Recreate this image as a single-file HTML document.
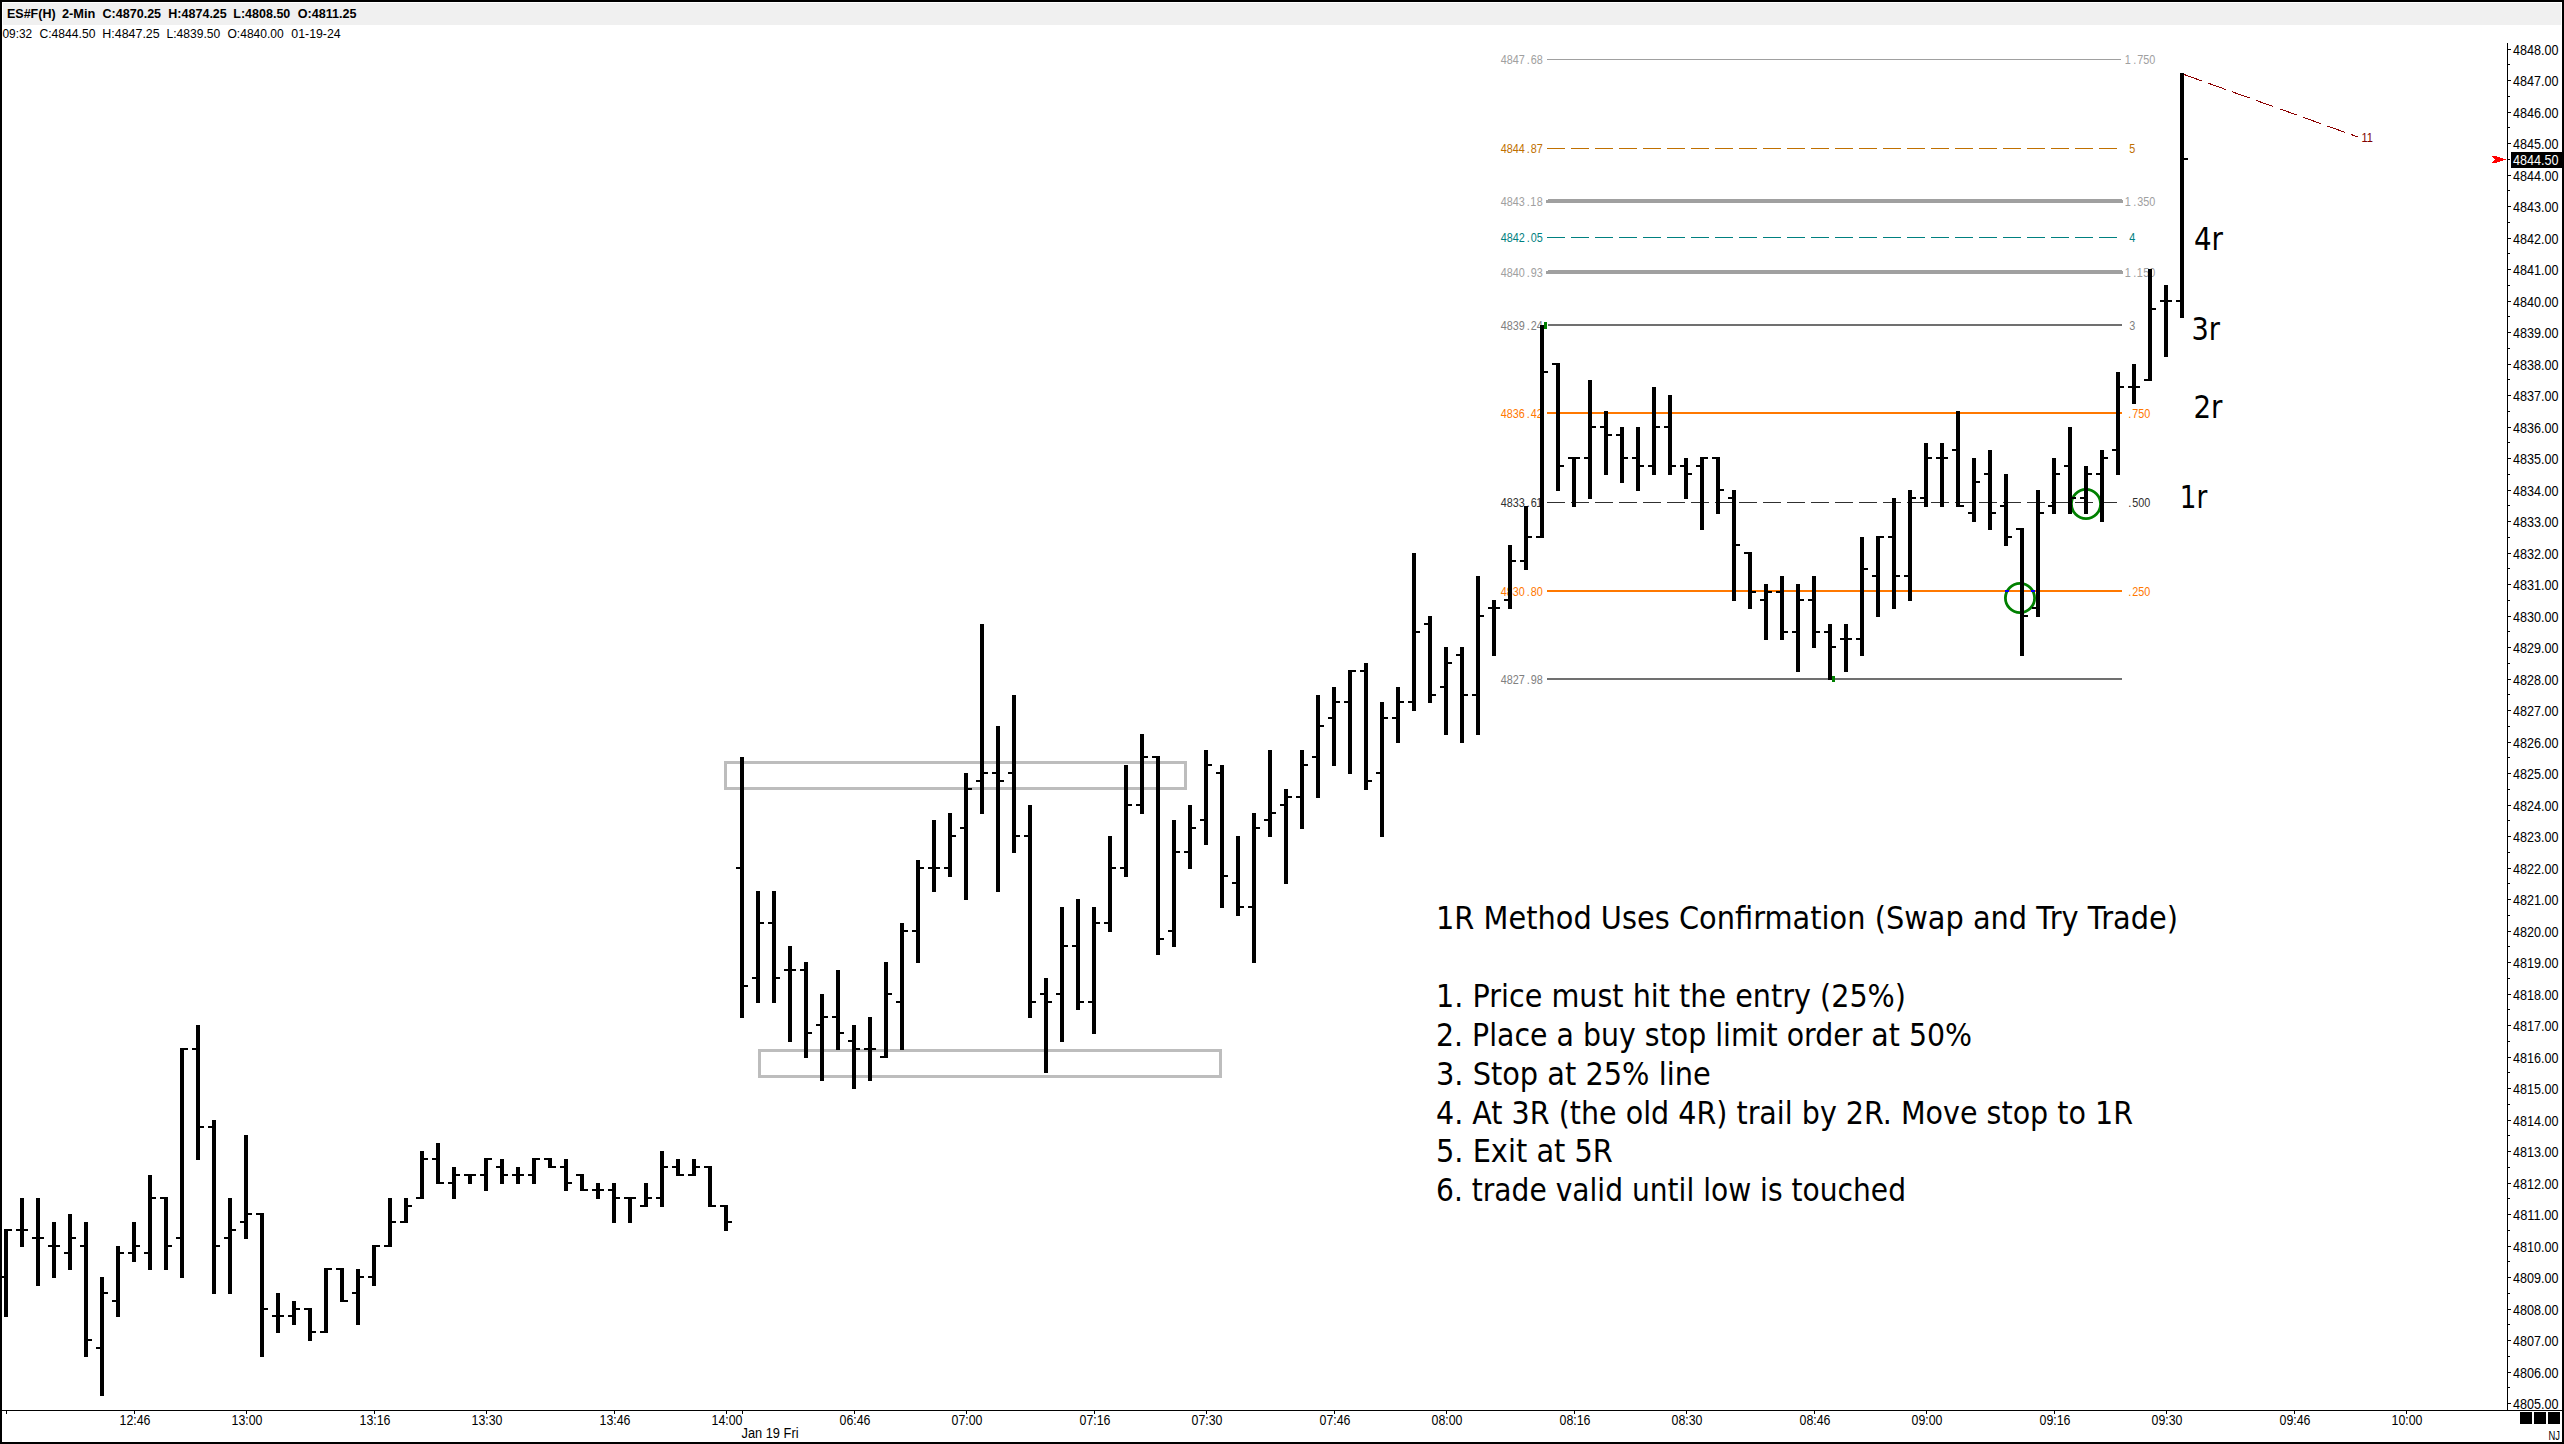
<!DOCTYPE html><html><head><meta charset="utf-8"><title>ES 2-Min Chart</title><style>html,body{margin:0;padding:0;background:#fff;overflow:hidden}svg{display:block}</style></head><body><svg width="2564" height="1444" viewBox="0 0 2564 1444">
<rect x="0" y="0" width="2564" height="1444" fill="#fff"/>
<rect x="3" y="3" width="2558" height="22" fill="#f0f0f0"/>
<g shape-rendering="crispEdges">
<rect x="1547" y="59" width="574" height="1" fill="#a0a0a0"/>
<path d="M1547,148h18v1h-18zM1571,148h18v1h-18zM1595,148h18v1h-18zM1619,148h18v1h-18zM1643,148h18v1h-18zM1667,148h18v1h-18zM1691,148h18v1h-18zM1715,148h18v1h-18zM1739,148h18v1h-18zM1763,148h18v1h-18zM1787,148h18v1h-18zM1811,148h18v1h-18zM1835,148h18v1h-18zM1859,148h18v1h-18zM1883,148h18v1h-18zM1907,148h18v1h-18zM1931,148h18v1h-18zM1955,148h18v1h-18zM1979,148h18v1h-18zM2003,148h18v1h-18zM2027,148h18v1h-18zM2051,148h18v1h-18zM2075,148h18v1h-18zM2099,148h18v1h-18z" fill="#c07000"/>
<rect x="1548" y="199" width="574" height="1" fill="#a0a0a0"/>
<rect x="1546" y="200" width="577" height="3" fill="#a0a0a0"/>
<path d="M1547,237h18v1h-18zM1571,237h18v1h-18zM1595,237h18v1h-18zM1619,237h18v1h-18zM1643,237h18v1h-18zM1667,237h18v1h-18zM1691,237h18v1h-18zM1715,237h18v1h-18zM1739,237h18v1h-18zM1763,237h18v1h-18zM1787,237h18v1h-18zM1811,237h18v1h-18zM1835,237h18v1h-18zM1859,237h18v1h-18zM1883,237h18v1h-18zM1907,237h18v1h-18zM1931,237h18v1h-18zM1955,237h18v1h-18zM1979,237h18v1h-18zM2003,237h18v1h-18zM2027,237h18v1h-18zM2051,237h18v1h-18zM2075,237h18v1h-18zM2099,237h18v1h-18z" fill="#008080"/>
<rect x="1548" y="270" width="574" height="1" fill="#a0a0a0"/>
<rect x="1546" y="271" width="577" height="3" fill="#a0a0a0"/>
<rect x="1548" y="324" width="574" height="2" fill="#707070"/>
<rect x="1547" y="412" width="575" height="2" fill="#ff7800"/>
<path d="M1547,502h18v1h-18zM1571,502h18v1h-18zM1595,502h18v1h-18zM1619,502h18v1h-18zM1643,502h18v1h-18zM1667,502h18v1h-18zM1691,502h18v1h-18zM1715,502h18v1h-18zM1739,502h18v1h-18zM1763,502h18v1h-18zM1787,502h18v1h-18zM1811,502h18v1h-18zM1835,502h18v1h-18zM1859,502h18v1h-18zM1883,502h18v1h-18zM1907,502h18v1h-18zM1931,502h18v1h-18zM1955,502h18v1h-18zM1979,502h18v1h-18zM2003,502h18v1h-18zM2027,502h18v1h-18zM2051,502h18v1h-18zM2075,502h18v1h-18zM2099,502h18v1h-18z" fill="#303030"/>
<rect x="1547" y="590" width="575" height="2" fill="#ff7800"/>
<rect x="1547" y="678" width="575" height="2" fill="#707070"/>
</g>
<text transform="translate(1501 64) scale(0.86 1)" x="-0.23 6.74 13.72 20.70 30.00 34.65 41.63" y="0" font-family="'Liberation Sans', Arial, sans-serif" font-size="12.6" fill="#a0a0a0">4847.68</text>
<text transform="translate(1501 153) scale(0.86 1)" x="-0.23 6.74 13.72 20.70 30.00 34.65 41.63" y="0" font-family="'Liberation Sans', Arial, sans-serif" font-size="12.6" fill="#c07000">4844.87</text>
<text transform="translate(1501 206) scale(0.86 1)" x="-0.23 6.74 13.72 20.70 30.00 33.95 41.63" y="0" font-family="'Liberation Sans', Arial, sans-serif" font-size="12.6" fill="#a0a0a0">4843.18</text>
<text transform="translate(1501 242) scale(0.86 1)" x="-0.23 6.74 13.72 20.70 30.00 34.65 41.63" y="0" font-family="'Liberation Sans', Arial, sans-serif" font-size="12.6" fill="#008080">4842.05</text>
<text transform="translate(1501 277) scale(0.86 1)" x="-0.23 6.74 13.72 20.70 30.00 34.65 41.63" y="0" font-family="'Liberation Sans', Arial, sans-serif" font-size="12.6" fill="#a0a0a0">4840.93</text>
<text transform="translate(1501 330) scale(0.86 1)" x="-0.23 6.74 13.72 20.70 30.00 34.65 41.63" y="0" font-family="'Liberation Sans', Arial, sans-serif" font-size="12.6" fill="#808080">4839.24</text>
<text transform="translate(1501 418) scale(0.86 1)" x="-0.23 6.74 13.72 20.70 30.00 34.65 41.63" y="0" font-family="'Liberation Sans', Arial, sans-serif" font-size="12.6" fill="#ff7800">4836.42</text>
<text transform="translate(1501 507) scale(0.86 1)" x="-0.23 6.74 13.72 20.70 30.00 34.65 40.93" y="0" font-family="'Liberation Sans', Arial, sans-serif" font-size="12.6" fill="#303030">4833.61</text>
<text transform="translate(1501 596) scale(0.86 1)" x="-0.23 6.74 13.72 20.70 30.00 34.65 41.63" y="0" font-family="'Liberation Sans', Arial, sans-serif" font-size="12.6" fill="#ff7800">4830.80</text>
<text transform="translate(1501 684) scale(0.86 1)" x="-0.23 6.74 13.72 20.70 30.00 34.65 41.63" y="0" font-family="'Liberation Sans', Arial, sans-serif" font-size="12.6" fill="#808080">4827.98</text>
<text transform="translate(2125.5 64) scale(0.86 1)" x="-0.93 9.07 13.72 20.70 27.67" y="0" font-family="'Liberation Sans', Arial, sans-serif" font-size="12.6" fill="#a0a0a0">1.750</text>
<text transform="translate(2129.5 153) scale(0.86 1)" x="-0.23" y="0" font-family="'Liberation Sans', Arial, sans-serif" font-size="12.6" fill="#c07000">5</text>
<text transform="translate(2125.5 206) scale(0.86 1)" x="-0.93 9.07 13.72 20.70 27.67" y="0" font-family="'Liberation Sans', Arial, sans-serif" font-size="12.6" fill="#a0a0a0">1.350</text>
<text transform="translate(2129.5 242) scale(0.86 1)" x="-0.23" y="0" font-family="'Liberation Sans', Arial, sans-serif" font-size="12.6" fill="#008080">4</text>
<text transform="translate(2125.5 277) scale(0.86 1)" x="-0.93 9.07 13.02 20.70 27.67" y="0" font-family="'Liberation Sans', Arial, sans-serif" font-size="12.6" fill="#a0a0a0">1.150</text>
<text transform="translate(2129.5 330) scale(0.86 1)" x="-0.23" y="0" font-family="'Liberation Sans', Arial, sans-serif" font-size="12.6" fill="#808080">3</text>
<text transform="translate(2126.5 418) scale(0.86 1)" x="2.09 6.74 13.72 20.70" y="0" font-family="'Liberation Sans', Arial, sans-serif" font-size="12.6" fill="#ff7800">.750</text>
<text transform="translate(2126.5 507) scale(0.86 1)" x="2.09 6.74 13.72 20.70" y="0" font-family="'Liberation Sans', Arial, sans-serif" font-size="12.6" fill="#303030">.500</text>
<text transform="translate(2126.5 596) scale(0.86 1)" x="2.09 6.74 13.72 20.70" y="0" font-family="'Liberation Sans', Arial, sans-serif" font-size="12.6" fill="#ff7800">.250</text>
<rect x="725.5" y="762.5" width="460" height="26" fill="none" stroke="#bdbdbd" stroke-width="3" shape-rendering="crispEdges"/>
<rect x="759.5" y="1050.5" width="461" height="26" fill="none" stroke="#bdbdbd" stroke-width="3" shape-rendering="crispEdges"/>
<circle cx="2020" cy="598" r="14.6" fill="none" stroke="#008000" stroke-width="2.8"/>
<circle cx="2086" cy="504" r="14.6" fill="none" stroke="#008000" stroke-width="2.8"/>
<rect x="2005" y="590" width="4" height="2" fill="#0000ff"/>
<rect x="2031" y="590" width="4" height="2" fill="#0000ff"/>
<rect x="1544" y="322" width="3" height="7" fill="#008000"/>
<rect x="1832" y="676" width="3" height="6" fill="#008000"/>
<path d="M4,1230h4v87h-4zM0,1276h8v2h-8zM4,1229h8v2h-8zM20,1198h4v49h-4zM16,1229h8v2h-8zM20,1229h8v2h-8zM36,1198h4v88h-4zM32,1237h8v2h-8zM36,1237h8v2h-8zM52,1222h4v56h-4zM48,1245h8v2h-8zM52,1245h8v2h-8zM68,1214h4v56h-4zM64,1252h8v2h-8zM68,1237h8v2h-8zM84,1222h4v135h-4zM80,1245h8v2h-8zM84,1339h8v2h-8zM100,1277h4v119h-4zM96,1347h8v2h-8zM100,1292h8v2h-8zM116,1246h4v71h-4zM112,1300h8v2h-8zM116,1252h8v2h-8zM132,1222h4v40h-4zM128,1252h8v2h-8zM132,1245h8v2h-8zM148,1175h4v95h-4zM144,1252h8v2h-8zM148,1197h8v2h-8zM164,1198h4v72h-4zM160,1197h8v2h-8zM164,1245h8v2h-8zM180,1049h4v229h-4zM176,1237h8v2h-8zM180,1048h8v2h-8zM196,1025h4v135h-4zM192,1048h8v2h-8zM196,1126h8v2h-8zM212,1120h4v174h-4zM208,1126h8v2h-8zM212,1245h8v2h-8zM228,1198h4v96h-4zM224,1237h8v2h-8zM228,1229h8v2h-8zM244,1135h4v104h-4zM240,1221h8v2h-8zM244,1213h8v2h-8zM260,1214h4v143h-4zM256,1213h8v2h-8zM260,1308h8v2h-8zM276,1293h4v40h-4zM272,1315h8v2h-8zM276,1315h8v2h-8zM292,1301h4v24h-4zM288,1315h8v2h-8zM292,1308h8v2h-8zM308,1309h4v32h-4zM304,1308h8v2h-8zM308,1331h8v2h-8zM324,1269h4v64h-4zM320,1331h8v2h-8zM324,1268h8v2h-8zM340,1269h4v33h-4zM336,1268h8v2h-8zM340,1300h8v2h-8zM356,1269h4v56h-4zM352,1292h8v2h-8zM356,1276h8v2h-8zM372,1246h4v40h-4zM368,1276h8v2h-8zM372,1245h8v2h-8zM388,1198h4v49h-4zM384,1245h8v2h-8zM388,1221h8v2h-8zM404,1198h4v25h-4zM400,1221h8v2h-8zM404,1205h8v2h-8zM420,1151h4v48h-4zM416,1197h8v2h-8zM420,1158h8v2h-8zM436,1143h4v41h-4zM432,1158h8v2h-8zM436,1182h8v2h-8zM452,1167h4v32h-4zM448,1182h8v2h-8zM452,1174h8v2h-8zM468,1175h4v9h-4zM464,1174h8v2h-8zM468,1174h8v2h-8zM484,1159h4v32h-4zM480,1174h8v2h-8zM484,1158h8v2h-8zM500,1159h4v25h-4zM496,1166h8v2h-8zM500,1174h8v2h-8zM516,1167h4v17h-4zM512,1174h8v2h-8zM516,1174h8v2h-8zM532,1159h4v25h-4zM528,1174h8v2h-8zM532,1158h8v2h-8zM548,1159h4v9h-4zM544,1158h8v2h-8zM548,1166h8v2h-8zM564,1159h4v32h-4zM560,1166h8v2h-8zM564,1182h8v2h-8zM580,1175h4v16h-4zM576,1174h8v2h-8zM580,1189h8v2h-8zM596,1183h4v16h-4zM592,1189h8v2h-8zM596,1189h8v2h-8zM612,1183h4v40h-4zM608,1189h8v2h-8zM612,1197h8v2h-8zM628,1198h4v25h-4zM624,1197h8v2h-8zM628,1197h8v2h-8zM644,1183h4v24h-4zM640,1205h8v2h-8zM644,1197h8v2h-8zM660,1151h4v56h-4zM656,1197h8v2h-8zM660,1166h8v2h-8zM676,1159h4v17h-4zM672,1166h8v2h-8zM676,1174h8v2h-8zM692,1159h4v17h-4zM688,1174h8v2h-8zM692,1166h8v2h-8zM708,1167h4v40h-4zM704,1166h8v2h-8zM708,1205h8v2h-8zM724,1206h4v25h-4zM720,1205h8v2h-8zM724,1221h8v2h-8zM740,757h4v261h-4zM736,867h8v2h-8zM740,985h8v2h-8zM756,891h4v112h-4zM752,977h8v2h-8zM756,922h8v2h-8zM772,891h4v112h-4zM768,922h8v2h-8zM772,977h8v2h-8zM788,946h4v96h-4zM784,969h8v2h-8zM788,969h8v2h-8zM804,962h4v96h-4zM800,969h8v2h-8zM804,1032h8v2h-8zM820,994h4v87h-4zM816,1024h8v2h-8zM820,1016h8v2h-8zM836,970h4v80h-4zM832,1016h8v2h-8zM836,1032h8v2h-8zM852,1025h4v64h-4zM848,1040h8v2h-8zM852,1048h8v2h-8zM868,1017h4v64h-4zM864,1048h8v2h-8zM868,1048h8v2h-8zM884,962h4v96h-4zM880,1056h8v2h-8zM884,993h8v2h-8zM900,923h4v127h-4zM896,1001h8v2h-8zM900,930h8v2h-8zM916,860h4v103h-4zM912,930h8v2h-8zM916,867h8v2h-8zM932,820h4v72h-4zM928,867h8v2h-8zM932,867h8v2h-8zM948,813h4v64h-4zM944,867h8v2h-8zM948,835h8v2h-8zM964,773h4v127h-4zM960,827h8v2h-8zM964,788h8v2h-8zM980,624h4v190h-4zM976,780h8v2h-8zM980,772h8v2h-8zM996,726h4v166h-4zM992,772h8v2h-8zM996,780h8v2h-8zM1012,695h4v158h-4zM1008,772h8v2h-8zM1012,835h8v2h-8zM1028,805h4v213h-4zM1024,835h8v2h-8zM1028,1001h8v2h-8zM1044,978h4v95h-4zM1040,993h8v2h-8zM1044,1001h8v2h-8zM1060,907h4v135h-4zM1056,993h8v2h-8zM1060,945h8v2h-8zM1076,899h4v111h-4zM1072,945h8v2h-8zM1076,1001h8v2h-8zM1092,907h4v127h-4zM1088,1001h8v2h-8zM1092,922h8v2h-8zM1108,836h4v96h-4zM1104,922h8v2h-8zM1108,867h8v2h-8zM1124,765h4v112h-4zM1120,867h8v2h-8zM1124,804h8v2h-8zM1140,734h4v80h-4zM1136,804h8v2h-8zM1140,756h8v2h-8zM1156,757h4v198h-4zM1152,756h8v2h-8zM1156,938h8v2h-8zM1172,820h4v127h-4zM1168,930h8v2h-8zM1172,851h8v2h-8zM1188,805h4v64h-4zM1184,851h8v2h-8zM1188,827h8v2h-8zM1204,750h4v95h-4zM1200,819h8v2h-8zM1204,764h8v2h-8zM1220,765h4v143h-4zM1216,772h8v2h-8zM1220,875h8v2h-8zM1236,836h4v80h-4zM1232,882h8v2h-8zM1236,906h8v2h-8zM1252,813h4v150h-4zM1248,906h8v2h-8zM1252,827h8v2h-8zM1268,750h4v87h-4zM1264,819h8v2h-8zM1268,812h8v2h-8zM1284,789h4v95h-4zM1280,804h8v2h-8zM1284,796h8v2h-8zM1300,750h4v79h-4zM1296,796h8v2h-8zM1300,764h8v2h-8zM1316,695h4v103h-4zM1312,756h8v2h-8zM1316,725h8v2h-8zM1332,687h4v79h-4zM1328,717h8v2h-8zM1332,701h8v2h-8zM1348,671h4v103h-4zM1344,701h8v2h-8zM1348,670h8v2h-8zM1364,663h4v127h-4zM1360,670h8v2h-8zM1364,780h8v2h-8zM1380,702h4v135h-4zM1376,772h8v2h-8zM1380,717h8v2h-8zM1396,687h4v56h-4zM1392,717h8v2h-8zM1396,701h8v2h-8zM1412,553h4v158h-4zM1408,701h8v2h-8zM1412,631h8v2h-8zM1428,616h4v87h-4zM1424,623h8v2h-8zM1428,694h8v2h-8zM1444,647h4v88h-4zM1440,686h8v2h-8zM1444,662h8v2h-8zM1460,647h4v96h-4zM1456,654h8v2h-8zM1460,694h8v2h-8zM1476,576h4v159h-4zM1472,694h8v2h-8zM1476,615h8v2h-8zM1492,600h4v56h-4zM1488,607h8v2h-8zM1492,607h8v2h-8zM1508,545h4v64h-4zM1504,599h8v2h-8zM1508,560h8v2h-8zM1524,506h4v64h-4zM1520,560h8v2h-8zM1524,536h8v2h-8zM1540,325h4v213h-4zM1536,536h8v2h-8zM1540,371h8v2h-8zM1556,364h4v127h-4zM1552,363h8v2h-8zM1556,465h8v2h-8zM1572,458h4v49h-4zM1568,457h8v2h-8zM1572,457h8v2h-8zM1588,380h4v119h-4zM1584,457h8v2h-8zM1588,426h8v2h-8zM1604,411h4v64h-4zM1600,426h8v2h-8zM1604,434h8v2h-8zM1620,427h4v56h-4zM1616,434h8v2h-8zM1620,457h8v2h-8zM1636,427h4v64h-4zM1632,457h8v2h-8zM1636,465h8v2h-8zM1652,387h4v88h-4zM1648,465h8v2h-8zM1652,426h8v2h-8zM1668,395h4v80h-4zM1664,426h8v2h-8zM1668,465h8v2h-8zM1684,458h4v41h-4zM1680,465h8v2h-8zM1684,473h8v2h-8zM1700,458h4v72h-4zM1696,465h8v2h-8zM1700,457h8v2h-8zM1716,458h4v56h-4zM1712,457h8v2h-8zM1716,489h8v2h-8zM1732,490h4v111h-4zM1728,497h8v2h-8zM1732,544h8v2h-8zM1748,553h4v56h-4zM1744,552h8v2h-8zM1748,591h8v2h-8zM1764,584h4v56h-4zM1760,599h8v2h-8zM1764,591h8v2h-8zM1780,576h4v64h-4zM1776,591h8v2h-8zM1780,631h8v2h-8zM1796,584h4v88h-4zM1792,631h8v2h-8zM1796,599h8v2h-8zM1812,576h4v72h-4zM1808,599h8v2h-8zM1812,631h8v2h-8zM1828,624h4v56h-4zM1824,631h8v2h-8zM1828,646h8v2h-8zM1844,624h4v48h-4zM1840,638h8v2h-8zM1844,638h8v2h-8zM1860,537h4v119h-4zM1856,638h8v2h-8zM1860,568h8v2h-8zM1876,537h4v80h-4zM1872,575h8v2h-8zM1876,536h8v2h-8zM1892,498h4v111h-4zM1888,536h8v2h-8zM1892,575h8v2h-8zM1908,490h4v111h-4zM1904,575h8v2h-8zM1908,497h8v2h-8zM1924,443h4v64h-4zM1920,497h8v2h-8zM1924,457h8v2h-8zM1940,443h4v64h-4zM1936,457h8v2h-8zM1940,457h8v2h-8zM1956,411h4v96h-4zM1952,449h8v2h-8zM1956,505h8v2h-8zM1972,458h4v64h-4zM1968,512h8v2h-8zM1972,481h8v2h-8zM1988,450h4v80h-4zM1984,473h8v2h-8zM1988,512h8v2h-8zM2004,474h4v72h-4zM2000,505h8v2h-8zM2004,536h8v2h-8zM2020,529h4v127h-4zM2016,528h8v2h-8zM2020,615h8v2h-8zM2036,490h4v127h-4zM2032,607h8v2h-8zM2036,512h8v2h-8zM2052,458h4v56h-4zM2048,505h8v2h-8zM2052,473h8v2h-8zM2068,427h4v87h-4zM2064,465h8v2h-8zM2068,497h8v2h-8zM2084,466h4v48h-4zM2080,497h8v2h-8zM2084,473h8v2h-8zM2100,450h4v72h-4zM2096,473h8v2h-8zM2100,457h8v2h-8zM2116,372h4v103h-4zM2112,449h8v2h-8zM2116,386h8v2h-8zM2132,364h4v40h-4zM2128,386h8v2h-8zM2132,386h8v2h-8zM2148,269h4v112h-4zM2144,379h8v2h-8zM2148,308h8v2h-8zM2164,285h4v72h-4zM2160,300h8v2h-8zM2164,300h8v2h-8zM2180,73h4v245h-4zM2176,300h8v2h-8zM2180,158h8v2h-8z" fill="#000" shape-rendering="crispEdges"/>
<line x1="2184" y1="74.5" x2="2358" y2="137" stroke="#8b0000" stroke-width="1" stroke-dasharray="18.8 6.6" shape-rendering="crispEdges"/>
<text x="2361.5" y="141.5" font-family="'Liberation Sans', Arial, sans-serif" font-size="13" fill="#800000" textLength="11.5" lengthAdjust="spacingAndGlyphs">11</text>
<path d="M2507,43h1v1368h-1zM2,1410h2560v1h-2560zM2508,49h3v1h-3zM2508,80h3v1h-3zM2508,112h3v1h-3zM2508,143h3v1h-3zM2508,175h3v1h-3zM2508,206h3v1h-3zM2508,238h3v1h-3zM2508,269h3v1h-3zM2508,301h3v1h-3zM2508,332h3v1h-3zM2508,364h3v1h-3zM2508,395h3v1h-3zM2508,427h3v1h-3zM2508,458h3v1h-3zM2508,490h3v1h-3zM2508,521h3v1h-3zM2508,553h3v1h-3zM2508,584h3v1h-3zM2508,616h3v1h-3zM2508,647h3v1h-3zM2508,679h3v1h-3zM2508,710h3v1h-3zM2508,742h3v1h-3zM2508,773h3v1h-3zM2508,805h3v1h-3zM2508,836h3v1h-3zM2508,868h3v1h-3zM2508,899h3v1h-3zM2508,931h3v1h-3zM2508,962h3v1h-3zM2508,994h3v1h-3zM2508,1025h3v1h-3zM2508,1057h3v1h-3zM2508,1088h3v1h-3zM2508,1120h3v1h-3zM2508,1151h3v1h-3zM2508,1183h3v1h-3zM2508,1214h3v1h-3zM2508,1246h3v1h-3zM2508,1277h3v1h-3zM2508,1309h3v1h-3zM2508,1340h3v1h-3zM2508,1372h3v1h-3zM2508,1403h3v1h-3zM2508,64h2v1h-2zM2508,96h2v1h-2zM2508,127h2v1h-2zM2508,159h2v1h-2zM2508,190h2v1h-2zM2508,222h2v1h-2zM2508,253h2v1h-2zM2508,285h2v1h-2zM2508,316h2v1h-2zM2508,348h2v1h-2zM2508,379h2v1h-2zM2508,411h2v1h-2zM2508,442h2v1h-2zM2508,474h2v1h-2zM2508,505h2v1h-2zM2508,537h2v1h-2zM2508,568h2v1h-2zM2508,600h2v1h-2zM2508,631h2v1h-2zM2508,663h2v1h-2zM2508,694h2v1h-2zM2508,726h2v1h-2zM2508,757h2v1h-2zM2508,789h2v1h-2zM2508,820h2v1h-2zM2508,852h2v1h-2zM2508,883h2v1h-2zM2508,915h2v1h-2zM2508,946h2v1h-2zM2508,978h2v1h-2zM2508,1009h2v1h-2zM2508,1041h2v1h-2zM2508,1072h2v1h-2zM2508,1104h2v1h-2zM2508,1135h2v1h-2zM2508,1167h2v1h-2zM2508,1198h2v1h-2zM2508,1230h2v1h-2zM2508,1261h2v1h-2zM2508,1293h2v1h-2zM2508,1324h2v1h-2zM2508,1356h2v1h-2zM2508,1387h2v1h-2zM6,1411h1v3h-1zM134,1411h1v3h-1zM246,1411h1v3h-1zM374,1411h1v3h-1zM486,1411h1v3h-1zM614,1411h1v3h-1zM726,1411h1v3h-1zM742,1411h1v3h-1zM854,1411h1v3h-1zM966,1411h1v3h-1zM1094,1411h1v3h-1zM1206,1411h1v3h-1zM1334,1411h1v3h-1zM1446,1411h1v3h-1zM1574,1411h1v3h-1zM1686,1411h1v3h-1zM1814,1411h1v3h-1zM1926,1411h1v3h-1zM2054,1411h1v3h-1zM2166,1411h1v3h-1zM2294,1411h1v3h-1zM2406,1411h1v3h-1z" fill="#000" shape-rendering="crispEdges"/>
<text x="2513" y="55" font-family="'Liberation Sans', Arial, sans-serif" font-size="14" fill="#000" textLength="45.5" lengthAdjust="spacingAndGlyphs">4848.00</text>
<text x="2513" y="86" font-family="'Liberation Sans', Arial, sans-serif" font-size="14" fill="#000" textLength="45.5" lengthAdjust="spacingAndGlyphs">4847.00</text>
<text x="2513" y="118" font-family="'Liberation Sans', Arial, sans-serif" font-size="14" fill="#000" textLength="45.5" lengthAdjust="spacingAndGlyphs">4846.00</text>
<text x="2513" y="149" font-family="'Liberation Sans', Arial, sans-serif" font-size="14" fill="#000" textLength="45.5" lengthAdjust="spacingAndGlyphs">4845.00</text>
<text x="2513" y="181" font-family="'Liberation Sans', Arial, sans-serif" font-size="14" fill="#000" textLength="45.5" lengthAdjust="spacingAndGlyphs">4844.00</text>
<text x="2513" y="212" font-family="'Liberation Sans', Arial, sans-serif" font-size="14" fill="#000" textLength="45.5" lengthAdjust="spacingAndGlyphs">4843.00</text>
<text x="2513" y="244" font-family="'Liberation Sans', Arial, sans-serif" font-size="14" fill="#000" textLength="45.5" lengthAdjust="spacingAndGlyphs">4842.00</text>
<text x="2513" y="275" font-family="'Liberation Sans', Arial, sans-serif" font-size="14" fill="#000" textLength="45.5" lengthAdjust="spacingAndGlyphs">4841.00</text>
<text x="2513" y="307" font-family="'Liberation Sans', Arial, sans-serif" font-size="14" fill="#000" textLength="45.5" lengthAdjust="spacingAndGlyphs">4840.00</text>
<text x="2513" y="338" font-family="'Liberation Sans', Arial, sans-serif" font-size="14" fill="#000" textLength="45.5" lengthAdjust="spacingAndGlyphs">4839.00</text>
<text x="2513" y="370" font-family="'Liberation Sans', Arial, sans-serif" font-size="14" fill="#000" textLength="45.5" lengthAdjust="spacingAndGlyphs">4838.00</text>
<text x="2513" y="401" font-family="'Liberation Sans', Arial, sans-serif" font-size="14" fill="#000" textLength="45.5" lengthAdjust="spacingAndGlyphs">4837.00</text>
<text x="2513" y="433" font-family="'Liberation Sans', Arial, sans-serif" font-size="14" fill="#000" textLength="45.5" lengthAdjust="spacingAndGlyphs">4836.00</text>
<text x="2513" y="464" font-family="'Liberation Sans', Arial, sans-serif" font-size="14" fill="#000" textLength="45.5" lengthAdjust="spacingAndGlyphs">4835.00</text>
<text x="2513" y="496" font-family="'Liberation Sans', Arial, sans-serif" font-size="14" fill="#000" textLength="45.5" lengthAdjust="spacingAndGlyphs">4834.00</text>
<text x="2513" y="527" font-family="'Liberation Sans', Arial, sans-serif" font-size="14" fill="#000" textLength="45.5" lengthAdjust="spacingAndGlyphs">4833.00</text>
<text x="2513" y="559" font-family="'Liberation Sans', Arial, sans-serif" font-size="14" fill="#000" textLength="45.5" lengthAdjust="spacingAndGlyphs">4832.00</text>
<text x="2513" y="590" font-family="'Liberation Sans', Arial, sans-serif" font-size="14" fill="#000" textLength="45.5" lengthAdjust="spacingAndGlyphs">4831.00</text>
<text x="2513" y="622" font-family="'Liberation Sans', Arial, sans-serif" font-size="14" fill="#000" textLength="45.5" lengthAdjust="spacingAndGlyphs">4830.00</text>
<text x="2513" y="653" font-family="'Liberation Sans', Arial, sans-serif" font-size="14" fill="#000" textLength="45.5" lengthAdjust="spacingAndGlyphs">4829.00</text>
<text x="2513" y="685" font-family="'Liberation Sans', Arial, sans-serif" font-size="14" fill="#000" textLength="45.5" lengthAdjust="spacingAndGlyphs">4828.00</text>
<text x="2513" y="716" font-family="'Liberation Sans', Arial, sans-serif" font-size="14" fill="#000" textLength="45.5" lengthAdjust="spacingAndGlyphs">4827.00</text>
<text x="2513" y="748" font-family="'Liberation Sans', Arial, sans-serif" font-size="14" fill="#000" textLength="45.5" lengthAdjust="spacingAndGlyphs">4826.00</text>
<text x="2513" y="779" font-family="'Liberation Sans', Arial, sans-serif" font-size="14" fill="#000" textLength="45.5" lengthAdjust="spacingAndGlyphs">4825.00</text>
<text x="2513" y="811" font-family="'Liberation Sans', Arial, sans-serif" font-size="14" fill="#000" textLength="45.5" lengthAdjust="spacingAndGlyphs">4824.00</text>
<text x="2513" y="842" font-family="'Liberation Sans', Arial, sans-serif" font-size="14" fill="#000" textLength="45.5" lengthAdjust="spacingAndGlyphs">4823.00</text>
<text x="2513" y="874" font-family="'Liberation Sans', Arial, sans-serif" font-size="14" fill="#000" textLength="45.5" lengthAdjust="spacingAndGlyphs">4822.00</text>
<text x="2513" y="905" font-family="'Liberation Sans', Arial, sans-serif" font-size="14" fill="#000" textLength="45.5" lengthAdjust="spacingAndGlyphs">4821.00</text>
<text x="2513" y="937" font-family="'Liberation Sans', Arial, sans-serif" font-size="14" fill="#000" textLength="45.5" lengthAdjust="spacingAndGlyphs">4820.00</text>
<text x="2513" y="968" font-family="'Liberation Sans', Arial, sans-serif" font-size="14" fill="#000" textLength="45.5" lengthAdjust="spacingAndGlyphs">4819.00</text>
<text x="2513" y="1000" font-family="'Liberation Sans', Arial, sans-serif" font-size="14" fill="#000" textLength="45.5" lengthAdjust="spacingAndGlyphs">4818.00</text>
<text x="2513" y="1031" font-family="'Liberation Sans', Arial, sans-serif" font-size="14" fill="#000" textLength="45.5" lengthAdjust="spacingAndGlyphs">4817.00</text>
<text x="2513" y="1063" font-family="'Liberation Sans', Arial, sans-serif" font-size="14" fill="#000" textLength="45.5" lengthAdjust="spacingAndGlyphs">4816.00</text>
<text x="2513" y="1094" font-family="'Liberation Sans', Arial, sans-serif" font-size="14" fill="#000" textLength="45.5" lengthAdjust="spacingAndGlyphs">4815.00</text>
<text x="2513" y="1126" font-family="'Liberation Sans', Arial, sans-serif" font-size="14" fill="#000" textLength="45.5" lengthAdjust="spacingAndGlyphs">4814.00</text>
<text x="2513" y="1157" font-family="'Liberation Sans', Arial, sans-serif" font-size="14" fill="#000" textLength="45.5" lengthAdjust="spacingAndGlyphs">4813.00</text>
<text x="2513" y="1189" font-family="'Liberation Sans', Arial, sans-serif" font-size="14" fill="#000" textLength="45.5" lengthAdjust="spacingAndGlyphs">4812.00</text>
<text x="2513" y="1220" font-family="'Liberation Sans', Arial, sans-serif" font-size="14" fill="#000" textLength="45.5" lengthAdjust="spacingAndGlyphs">4811.00</text>
<text x="2513" y="1252" font-family="'Liberation Sans', Arial, sans-serif" font-size="14" fill="#000" textLength="45.5" lengthAdjust="spacingAndGlyphs">4810.00</text>
<text x="2513" y="1283" font-family="'Liberation Sans', Arial, sans-serif" font-size="14" fill="#000" textLength="45.5" lengthAdjust="spacingAndGlyphs">4809.00</text>
<text x="2513" y="1315" font-family="'Liberation Sans', Arial, sans-serif" font-size="14" fill="#000" textLength="45.5" lengthAdjust="spacingAndGlyphs">4808.00</text>
<text x="2513" y="1346" font-family="'Liberation Sans', Arial, sans-serif" font-size="14" fill="#000" textLength="45.5" lengthAdjust="spacingAndGlyphs">4807.00</text>
<text x="2513" y="1378" font-family="'Liberation Sans', Arial, sans-serif" font-size="14" fill="#000" textLength="45.5" lengthAdjust="spacingAndGlyphs">4806.00</text>
<text x="2513" y="1409" font-family="'Liberation Sans', Arial, sans-serif" font-size="14" fill="#000" textLength="45.5" lengthAdjust="spacingAndGlyphs">4805.00</text>
<text x="119.5" y="1425" font-family="'Liberation Sans', Arial, sans-serif" font-size="14" fill="#000" textLength="31" lengthAdjust="spacingAndGlyphs">12:46</text>
<text x="231.5" y="1425" font-family="'Liberation Sans', Arial, sans-serif" font-size="14" fill="#000" textLength="31" lengthAdjust="spacingAndGlyphs">13:00</text>
<text x="359.5" y="1425" font-family="'Liberation Sans', Arial, sans-serif" font-size="14" fill="#000" textLength="31" lengthAdjust="spacingAndGlyphs">13:16</text>
<text x="471.5" y="1425" font-family="'Liberation Sans', Arial, sans-serif" font-size="14" fill="#000" textLength="31" lengthAdjust="spacingAndGlyphs">13:30</text>
<text x="599.5" y="1425" font-family="'Liberation Sans', Arial, sans-serif" font-size="14" fill="#000" textLength="31" lengthAdjust="spacingAndGlyphs">13:46</text>
<text x="711.5" y="1425" font-family="'Liberation Sans', Arial, sans-serif" font-size="14" fill="#000" textLength="31" lengthAdjust="spacingAndGlyphs">14:00</text>
<text x="839.5" y="1425" font-family="'Liberation Sans', Arial, sans-serif" font-size="14" fill="#000" textLength="31" lengthAdjust="spacingAndGlyphs">06:46</text>
<text x="951.5" y="1425" font-family="'Liberation Sans', Arial, sans-serif" font-size="14" fill="#000" textLength="31" lengthAdjust="spacingAndGlyphs">07:00</text>
<text x="1079.5" y="1425" font-family="'Liberation Sans', Arial, sans-serif" font-size="14" fill="#000" textLength="31" lengthAdjust="spacingAndGlyphs">07:16</text>
<text x="1191.5" y="1425" font-family="'Liberation Sans', Arial, sans-serif" font-size="14" fill="#000" textLength="31" lengthAdjust="spacingAndGlyphs">07:30</text>
<text x="1319.5" y="1425" font-family="'Liberation Sans', Arial, sans-serif" font-size="14" fill="#000" textLength="31" lengthAdjust="spacingAndGlyphs">07:46</text>
<text x="1431.5" y="1425" font-family="'Liberation Sans', Arial, sans-serif" font-size="14" fill="#000" textLength="31" lengthAdjust="spacingAndGlyphs">08:00</text>
<text x="1559.5" y="1425" font-family="'Liberation Sans', Arial, sans-serif" font-size="14" fill="#000" textLength="31" lengthAdjust="spacingAndGlyphs">08:16</text>
<text x="1671.5" y="1425" font-family="'Liberation Sans', Arial, sans-serif" font-size="14" fill="#000" textLength="31" lengthAdjust="spacingAndGlyphs">08:30</text>
<text x="1799.5" y="1425" font-family="'Liberation Sans', Arial, sans-serif" font-size="14" fill="#000" textLength="31" lengthAdjust="spacingAndGlyphs">08:46</text>
<text x="1911.5" y="1425" font-family="'Liberation Sans', Arial, sans-serif" font-size="14" fill="#000" textLength="31" lengthAdjust="spacingAndGlyphs">09:00</text>
<text x="2039.5" y="1425" font-family="'Liberation Sans', Arial, sans-serif" font-size="14" fill="#000" textLength="31" lengthAdjust="spacingAndGlyphs">09:16</text>
<text x="2151.5" y="1425" font-family="'Liberation Sans', Arial, sans-serif" font-size="14" fill="#000" textLength="31" lengthAdjust="spacingAndGlyphs">09:30</text>
<text x="2279.5" y="1425" font-family="'Liberation Sans', Arial, sans-serif" font-size="14" fill="#000" textLength="31" lengthAdjust="spacingAndGlyphs">09:46</text>
<text x="2391.5" y="1425" font-family="'Liberation Sans', Arial, sans-serif" font-size="14" fill="#000" textLength="31" lengthAdjust="spacingAndGlyphs">10:00</text>
<text x="741.5" y="1438" font-family="'Liberation Sans', Arial, sans-serif" font-size="14" fill="#000" textLength="57" lengthAdjust="spacingAndGlyphs">Jan 19 Fri</text>
<rect x="2511" y="152" width="51" height="16" fill="#000"/>
<text x="2513" y="165" font-family="'Liberation Sans', Arial, sans-serif" font-size="14" fill="#fff" textLength="45.5" lengthAdjust="spacingAndGlyphs">4844.50</text>
<path d="M2492,156h5v1h-5zM2493,157h7v1h-7zM2494,158h9v1h-9zM2495,159h11v1h-11zM2494,160h9v1h-9zM2493,161h7v1h-7zM2492,162h5v1h-5z" fill="#ff0000" shape-rendering="crispEdges"/>
<text x="2194" y="249.7" font-family="'DejaVu Sans', Tahoma, Verdana, sans-serif" font-size="31.5" fill="#000" textLength="29" lengthAdjust="spacingAndGlyphs">4r</text>
<text x="2191.5" y="339.9" font-family="'DejaVu Sans', Tahoma, Verdana, sans-serif" font-size="31.5" fill="#000" textLength="28.5" lengthAdjust="spacingAndGlyphs">3r</text>
<text x="2193.5" y="418.2" font-family="'DejaVu Sans', Tahoma, Verdana, sans-serif" font-size="31.5" fill="#000" textLength="29" lengthAdjust="spacingAndGlyphs">2r</text>
<text x="2179.8" y="508" font-family="'DejaVu Sans', Tahoma, Verdana, sans-serif" font-size="31.5" fill="#000" textLength="27.5" lengthAdjust="spacingAndGlyphs">1r</text>
<text x="1436" y="929" font-family="'DejaVu Sans', Tahoma, Verdana, sans-serif" font-size="31.5" fill="#000" textLength="742" lengthAdjust="spacingAndGlyphs">1R Method Uses Confirmation (Swap and Try Trade)</text>
<text x="1436" y="1006.8" font-family="'DejaVu Sans', Tahoma, Verdana, sans-serif" font-size="31.5" fill="#000" textLength="470" lengthAdjust="spacingAndGlyphs">1. Price must hit the entry (25%)</text>
<text x="1436" y="1045.7" font-family="'DejaVu Sans', Tahoma, Verdana, sans-serif" font-size="31.5" fill="#000" textLength="536" lengthAdjust="spacingAndGlyphs">2. Place a buy stop limit order at 50%</text>
<text x="1436" y="1084.6" font-family="'DejaVu Sans', Tahoma, Verdana, sans-serif" font-size="31.5" fill="#000" transform="translate(1436 0) scale(0.915 1) translate(-1436 0)">3. Stop at 25% line</text>
<text x="1436" y="1123.5" font-family="'DejaVu Sans', Tahoma, Verdana, sans-serif" font-size="31.5" fill="#000" textLength="697" lengthAdjust="spacingAndGlyphs">4. At 3R (the old 4R) trail by 2R. Move stop to 1R</text>
<text x="1436" y="1162.4" font-family="'DejaVu Sans', Tahoma, Verdana, sans-serif" font-size="31.5" fill="#000" transform="translate(1436 0) scale(0.915 1) translate(-1436 0)">5. Exit at 5R</text>
<text x="1436" y="1201.3" font-family="'DejaVu Sans', Tahoma, Verdana, sans-serif" font-size="31.5" fill="#000" textLength="470" lengthAdjust="spacingAndGlyphs">6. trade valid until low is touched</text>
<text x="7" y="18" font-family="'Liberation Sans', Arial, sans-serif" font-size="13.5" fill="#000" font-weight="bold" textLength="48.6" lengthAdjust="spacingAndGlyphs">ES#F(H)</text>
<text x="62" y="18" font-family="'Liberation Sans', Arial, sans-serif" font-size="13.5" fill="#000" font-weight="bold" textLength="33.4" lengthAdjust="spacingAndGlyphs">2-Min</text>
<text x="102.5" y="18" font-family="'Liberation Sans', Arial, sans-serif" font-size="13.5" fill="#000" font-weight="bold" textLength="58.6" lengthAdjust="spacingAndGlyphs">C:4870.25</text>
<text x="168.3" y="18" font-family="'Liberation Sans', Arial, sans-serif" font-size="13.5" fill="#000" font-weight="bold" textLength="58.5" lengthAdjust="spacingAndGlyphs">H:4874.25</text>
<text x="233.3" y="18" font-family="'Liberation Sans', Arial, sans-serif" font-size="13.5" fill="#000" font-weight="bold" textLength="57" lengthAdjust="spacingAndGlyphs">L:4808.50</text>
<text x="297.8" y="18" font-family="'Liberation Sans', Arial, sans-serif" font-size="13.5" fill="#000" font-weight="bold" textLength="58.8" lengthAdjust="spacingAndGlyphs">O:4811.25</text>
<text x="2.5" y="38" font-family="'Liberation Sans', Arial, sans-serif" font-size="13.5" fill="#000" textLength="29.7" lengthAdjust="spacingAndGlyphs">09:32</text>
<text x="39.5" y="38" font-family="'Liberation Sans', Arial, sans-serif" font-size="13.5" fill="#000" textLength="55.9" lengthAdjust="spacingAndGlyphs">C:4844.50</text>
<text x="102.3" y="38" font-family="'Liberation Sans', Arial, sans-serif" font-size="13.5" fill="#000" textLength="57.4" lengthAdjust="spacingAndGlyphs">H:4847.25</text>
<text x="166.5" y="38" font-family="'Liberation Sans', Arial, sans-serif" font-size="13.5" fill="#000" textLength="53.7" lengthAdjust="spacingAndGlyphs">L:4839.50</text>
<text x="227.5" y="38" font-family="'Liberation Sans', Arial, sans-serif" font-size="13.5" fill="#000" textLength="56.2" lengthAdjust="spacingAndGlyphs">O:4840.00</text>
<text x="291.3" y="38" font-family="'Liberation Sans', Arial, sans-serif" font-size="13.5" fill="#000" textLength="49.4" lengthAdjust="spacingAndGlyphs">01-19-24</text>
<path d="M2520,1412h12v12h-12zM2534,1412h12v12h-12zM2548,1412h12v12h-12z" fill="#000" shape-rendering="crispEdges"/>
<text x="2548.5" y="1440" font-family="'Liberation Sans', Arial, sans-serif" font-size="12" fill="#000" textLength="11.5" lengthAdjust="spacingAndGlyphs">NJ</text>
<path d="M0,0h2564v2h-2564zM0,1442h2564v2h-2564zM0,0h2v1444h-2zM2562,0h2v1444h-2z" fill="#000" shape-rendering="crispEdges"/>
</svg></body></html>
